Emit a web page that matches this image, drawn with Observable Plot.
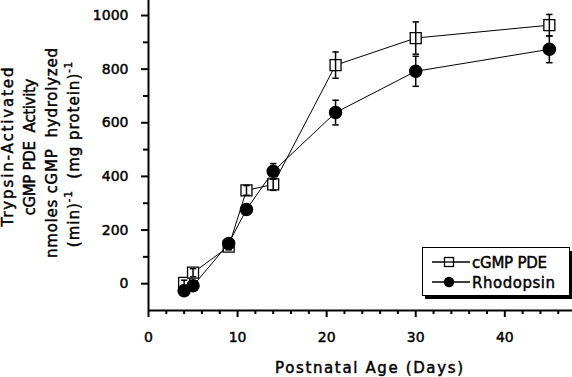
<!DOCTYPE html>
<html><head><meta charset="utf-8">
<script src="https://cdn.jsdelivr.net/npm/d3@7"></script>
<script src="https://cdn.jsdelivr.net/npm/@observablehq/plot@0.6"></script>
<style>
html,body{margin:0;padding:0;background:#fff;}
#chart{position:relative;width:572px;height:377px;overflow:hidden;}
#chart svg text{stroke:black;stroke-width:0.45px;}
</style></head><body><div id="chart"></div>
<script>
// ---- data ----
const ages = [4, 5, 9, 11, 14, 21, 30, 45];
const pdeActivity = [3, 41, 138, 348, 370, 815, 916, 964];
const pdeError = [10, 15, 12, 18, 22, 49, 60, 40];
const rhodopsin = [-26, -8, 150, 277, 419, 638, 792, 874];
const rhodopsinError = [8, 8, 10, 12, 29, 46, 56, 50];
const seriesNames = ["cGMP PDE", "Rhodopsin"];
const xMajorTicks = [0, 10, 20, 30, 40];
const xMinorTicks = [2, 4, 6, 8, 12, 14, 16, 18, 22, 24, 26, 28, 32, 34, 36, 38, 42, 44, 46];
const yMajorTicks = [0, 200, 400, 600, 800, 1000];
const yMinorTicks = [100, 300, 500, 700, 900];
const xTitle = "Postnatal Age (Days)";
const yTitleLines = ["Trypsin-Activated", "cGMP PDE  Activity", "nmoles cGMP  hydrolyzed"];

const pdeRows = ages.map((a, i) => ({age: a, value: pdeActivity[i], err: pdeError[i]}));
const rhoRows = ages.map((a, i) => ({age: a, value: rhodopsin[i], err: rhodopsinError[i]}));

const capSymbol = {draw(ctx, size) { const r = Math.sqrt(size / Math.PI); ctx.moveTo(-r, 0); ctx.lineTo(r, 0); }};
const FONT = "DejaVu Sans, Verdana, sans-serif";

function errorMarks(rows) {
  return [
    Plot.ruleX(rows, {x: "age", y1: d => d.value - d.err, y2: d => d.value + d.err, stroke: "black", strokeWidth: 1.5}),
    Plot.dot(rows, {x: "age", y: d => d.value + d.err, symbol: capSymbol, r: 3.2, stroke: "black", strokeWidth: 1.5}),
    Plot.dot(rows, {x: "age", y: d => d.value - d.err, symbol: capSymbol, r: 3.2, stroke: "black", strokeWidth: 1.5})
  ];
}

const plot = Plot.plot({
  width: 572, height: 377,
  marginLeft: 148, marginRight: 0, marginTop: 0, marginBottom: 67,
  style: {fontFamily: FONT, fontSize: "14px", color: "black", background: "white", overflow: "visible"},
  x: {domain: [0, 47.6]},
  y: {domain: [-100, 1056]},
  marks: [
    Plot.axisX(xMinorTicks, {tickSize: 4, strokeWidth: 2, tickFormat: () => "", label: null}),
    Plot.axisX(xMajorTicks, {tickSize: 7, tickPadding: 15, strokeWidth: 2, label: null, tickFormat: d => String(d)}),
    Plot.axisY(yMinorTicks, {tickSize: 5, strokeWidth: 2, tickFormat: () => "", label: null}),
    Plot.axisY(yMajorTicks, {tickSize: 7, tickPadding: 13, strokeWidth: 2, label: null, tickFormat: d => String(d)}),
    Plot.ruleY([-100], {stroke: "black", strokeWidth: 2}),
    Plot.ruleX([0], {stroke: "black", strokeWidth: 2}),
    Plot.line(pdeRows, {x: "age", y: "value", stroke: "black", strokeWidth: 1}),
    Plot.dot(pdeRows, {x: "age", y: "value", symbol: "square", r: 6.2, fill: "white", stroke: "black", strokeWidth: 1.3}),
    ...errorMarks(pdeRows),
    Plot.line(rhoRows, {x: "age", y: "value", stroke: "black", strokeWidth: 1}),
    Plot.dot(rhoRows, {x: "age", y: "value", r: 6, fill: "black", stroke: "black"}),
    ...errorMarks(rhoRows)
  ]
});
document.getElementById("chart").appendChild(plot);

const svg = d3.select(plot);

// x axis title
svg.append("text").attr("x", 369).attr("y", 373).attr("text-anchor", "middle")
  .attr("font-family", FONT).attr("font-size", 15).attr("fill", "black")
  .attr("textLength", 188).attr("lengthAdjust", "spacing").text(xTitle);

// y axis title (rotated, four lines)
const yt = [
  {x: 13, y: 147, len: 159},
  {x: 35, y: 147, len: 137},
  {x: 57, y: 153, len: 210}
];
yTitleLines.forEach((t, i) => {
  svg.append("text").attr("transform", `translate(${yt[i].x},${yt[i].y}) rotate(-90)`)
    .attr("text-anchor", "middle").attr("font-family", FONT).attr("font-size", 15).attr("fill", "black")
    .attr("textLength", yt[i].len).attr("lengthAdjust", "spacing").text(t);
});
const l4 = svg.append("text").attr("transform", "translate(79,154) rotate(-90)")
  .attr("text-anchor", "middle").attr("font-family", FONT).attr("font-size", 15).attr("fill", "black")
  .attr("letter-spacing", 1);
l4.append("tspan").text("(min)");
l4.append("tspan").attr("dy", -7).attr("font-size", 10).text("-1");
l4.append("tspan").attr("dy", 7).text("  (mg protein)");
l4.append("tspan").attr("dy", -7).attr("font-size", 10).text("-1");

// legend box with drop shadow
const lg = svg.append("g").attr("transform", "translate(422,247)");
lg.append("rect").attr("x", 3).attr("y", 4).attr("width", 147).attr("height", 48).attr("fill", "black");
lg.append("rect").attr("x", 0.5).attr("y", 0.5).attr("width", 147).attr("height", 48).attr("fill", "white").attr("stroke", "black");
const rowsY = [15, 35];
const legendLens = [75, 83];
seriesNames.forEach((name, i) => {
  const y = rowsY[i];
  lg.append("line").attr("x1", 10).attr("x2", 48).attr("y1", y).attr("y2", y).attr("stroke", "black").attr("stroke-width", 1.3);
  if (i === 0) {
    lg.append("rect").attr("x", 22.5).attr("y", y - 4.5).attr("width", 9).attr("height", 9).attr("fill", "white").attr("stroke", "black").attr("stroke-width", 1.3);
    lg.append("line").attr("x1", 22.5).attr("x2", 31.5).attr("y1", y).attr("y2", y).attr("stroke", "black").attr("stroke-width", 1.3);
  } else {
    lg.append("circle").attr("cx", 27).attr("cy", y).attr("r", 5.2).attr("fill", "black");
  }
  lg.append("text").attr("x", 50).attr("y", y + 5.5).attr("text-anchor", "start")
    .attr("font-family", FONT).attr("font-size", 15).attr("fill", "black")
    .attr("textLength", legendLens[i]).attr("lengthAdjust", "spacing").text(name);
});
</script></body></html>
